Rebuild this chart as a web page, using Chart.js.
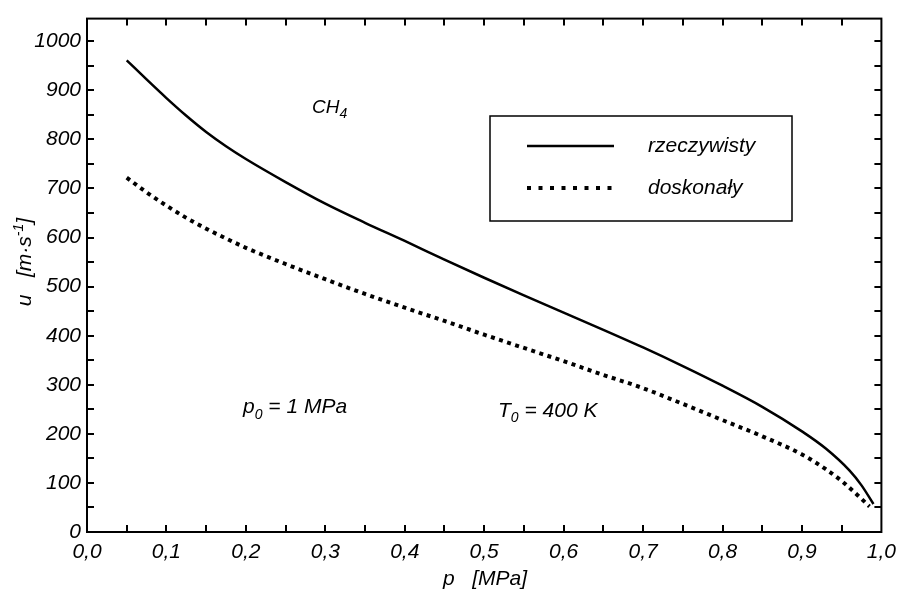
<!DOCTYPE html>
<html>
<head>
<meta charset="utf-8">
<script src="https://cdn.jsdelivr.net/npm/chart.js@4.4.1/dist/chart.umd.min.js"></script>
<style>
  body { margin: 0; background: #fff; }
  canvas { display: block; }
</style>
</head>
<body>
<canvas id="myChart" width="904" height="595"></canvas>
<script>
// predkosc u [m/s] w funkcji cisnienia p [MPa], CH4
const pReal = [0.05, 0.075, 0.1, 0.125, 0.15, 0.175, 0.2, 0.25, 0.3, 0.35, 0.4, 0.45, 0.5, 0.55, 0.6, 0.65, 0.7, 0.75, 0.8, 0.85, 0.9, 0.93, 0.96, 0.975, 0.99];
const uReal = [961, 922, 884, 848, 815, 786, 760, 713, 669, 630, 593, 555, 518, 482, 447, 412, 376, 338, 298, 255, 205, 170, 125, 95, 57];

const pIdeal = [0.05, 0.075, 0.1, 0.125, 0.15, 0.175, 0.2, 0.25, 0.3, 0.35, 0.4, 0.45, 0.5, 0.55, 0.6, 0.65, 0.7, 0.75, 0.8, 0.85, 0.9, 0.93, 0.95, 0.97, 0.985];
const uIdeal = [722, 692, 665, 640, 618, 598, 579, 546, 515, 485, 457, 430, 402, 375, 348, 320, 293, 261, 228, 195, 158, 128, 104, 75, 52];

const seriesNames = ["rzeczywisty", "doskonały"];

const FONT = "'Liberation Sans', Arial, sans-serif";
Chart.defaults.font.family = FONT;
Chart.defaults.font.style = "italic";
Chart.defaults.color = "#000";

function toPoints(xs, ys) {
  return xs.map((x, i) => ({ x: x, y: ys[i] }));
}

// tekst z indeksami dolnymi/gornymi: [tekst, przesuniecie, rozmiar]
function drawParts(ctx, x, y, parts) {
  let cx = x;
  for (const [txt, dy, size] of parts) {
    ctx.font = "italic " + size + "px " + FONT;
    ctx.fillText(txt, cx, y + dy);
    cx += ctx.measureText(txt).width;
  }
  return cx - x;
}
function partsWidth(ctx, parts) {
  let w = 0;
  for (const [txt, dy, size] of parts) {
    ctx.font = "italic " + size + "px " + FONT;
    w += ctx.measureText(txt).width;
  }
  return w;
}

const framePlugin = {
  id: "frame",
  afterDraw(chart) {
    const ctx = chart.ctx;
    const a = chart.chartArea;
    const xs = chart.scales.x;
    const ys = chart.scales.y;
    ctx.save();
    ctx.strokeStyle = "#000";
    ctx.fillStyle = "#000";

    // ramka
    ctx.lineWidth = 2;
    ctx.strokeRect(a.left, a.top, a.right - a.left, a.bottom - a.top);

    // znaczniki do srodka, na wszystkich bokach
    const tl = 7;
    ctx.beginPath();
    for (let v = 0.05; v < 0.999; v += 0.05) {
      const px = Math.round(xs.getPixelForValue(v));
      ctx.moveTo(px, a.bottom); ctx.lineTo(px, a.bottom - tl);
      ctx.moveTo(px, a.top); ctx.lineTo(px, a.top + tl);
    }
    for (let v = 50; v <= 1000; v += 50) {
      const py = Math.round(ys.getPixelForValue(v));
      ctx.moveTo(a.left, py); ctx.lineTo(a.left + tl, py);
      ctx.moveTo(a.right, py); ctx.lineTo(a.right - tl, py);
    }
    ctx.stroke();

    // legenda
    const box = { x: 490, y: 116, w: 302, h: 105 };
    ctx.lineWidth = 1.5;
    ctx.strokeRect(box.x, box.y, box.w, box.h);
    const rows = [146, 188];
    chart.data.datasets.forEach((ds, i) => {
      ctx.beginPath();
      ctx.lineWidth = ds.borderWidth;
      ctx.lineCap = "butt";
      ctx.setLineDash(ds.borderDash && ds.borderDash.length ? [4, 7.5] : []);
      ctx.moveTo(527, rows[i]);
      ctx.lineTo(614, rows[i]);
      ctx.stroke();
      ctx.setLineDash([]);
      ctx.font = "italic 21px " + FONT;
      ctx.textBaseline = "middle";
      ctx.textAlign = "left";
      ctx.fillText(ds.label, 648, rows[i]);
    });

    // opisy na wykresie
    ctx.textBaseline = "alphabetic";
    drawParts(ctx, 312, 113, [["CH", 0, 19], ["4", 5, 14]]);
    drawParts(ctx, 243, 413, [["p", 0, 21], ["0", 6, 14], [" = 1 MPa", 0, 21]]);
    drawParts(ctx, 498, 417, [["T", 0, 21], ["0", 5, 14], [" = 400 K", 0, 21]]);

    // tytul osi X
    const xt = [["p   [MPa]", 0, 21]];
    drawParts(ctx, 485 - partsWidth(ctx, xt) / 2, 585, xt);

    // tytul osi Y (obrocony)
    const yt = [["u   [m·s", 0, 21], ["-1", -8, 14], ["]", 0, 21]];
    ctx.translate(31, 262);
    ctx.rotate(-Math.PI / 2);
    drawParts(ctx, -partsWidth(ctx, yt) / 2, 0, yt);
    ctx.restore();
  }
};

const ctx = document.getElementById("myChart").getContext("2d");
const myChart = new Chart(ctx, {
  type: "line",
  data: {
    datasets: [
      {
        label: seriesNames[0],
        data: toPoints(pReal, uReal),
        borderColor: "#000",
        borderWidth: 2.5,
        pointRadius: 0,
        cubicInterpolationMode: "monotone",
        fill: false,
      },
      {
        label: seriesNames[1],
        data: toPoints(pIdeal, uIdeal),
        borderColor: "#000",
        borderWidth: 4,
        borderDash: [4, 4.5],
        borderCapStyle: "butt",
        pointRadius: 0,
        cubicInterpolationMode: "monotone",
        fill: false,
      },
    ],
  },
  options: {
    responsive: false,
    animation: false,
    devicePixelRatio: 1,
    layout: { padding: { top: 10, right: 20, left: 0, bottom: 0 } },
    plugins: { legend: { display: false }, tooltip: { enabled: false } },
    scales: {
      x: {
        type: "linear",
        position: "bottom",
        min: 0,
        max: 1,
        grid: { display: false, drawTicks: false },
        border: { display: false },
        afterFit(scale) { scale.height = 63; },
        ticks: {
          stepSize: 0.1,
          padding: 8,
          font: { size: 21, style: "italic" },
          maxRotation: 0,
          callback: (v) => Number(v).toFixed(1).replace(".", ","),
        },
      },
      y: {
        type: "linear",
        position: "left",
        min: 0,
        max: 1046,
        grid: { display: false, drawTicks: false },
        border: { display: false },
        afterFit(scale) { scale.width = 87; },
        ticks: {
          stepSize: 100,
          includeBounds: false,
          padding: 6,
          font: { size: 21, style: "italic" },
          callback: (v) => String(v),
        },
      },
    },
  },
  plugins: [framePlugin],
});
</script>
</body>
</html>
